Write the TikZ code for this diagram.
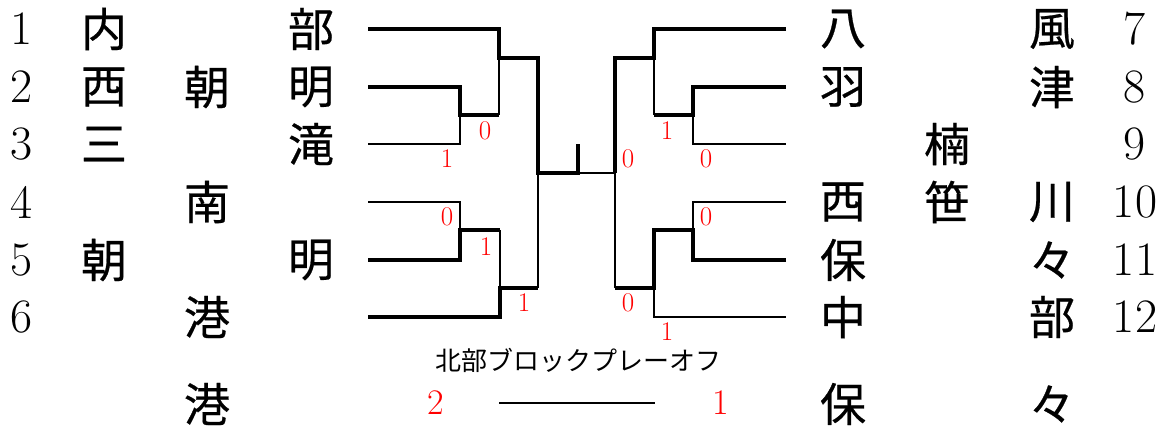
\documentclass[tikz,border=0pt]{standalone}
\usepackage{fontspec}
\newfontfamily\jp{Noto Sans CJK JP}
\newfontfamily\jpb[FakeBold=0.5]{Noto Sans CJK JP}
\begin{document}
\begin{tikzpicture}[x=1pt,y=-1pt,
  kj/.style={font=\jpb\fontsize{46}{46}\selectfont, inner sep=0pt},
  num/.style={font=\fontsize{48}{48}\selectfont\addfontfeatures{LetterSpace=12}, inner sep=0pt},
  sc/.style={font=\fontsize{27}{27}\selectfont, text=red, inner sep=0pt},
  bigsc/.style={font=\fontsize{36}{36}\selectfont, text=red, inner sep=0pt},
  ttl/.style={font=\jp\fontsize{26}{26}\selectfont, inner sep=0pt},
  win/.style={line width=4pt, line join=miter},
  lose/.style={line width=1.8pt, line join=miter}]
\useasboundingbox (0,0) rectangle (1172,432);
% row numbers
\foreach \n/\y in {1/29,2/87,3/144,4/202,5/260,6/317}
  \node[num] (nl\n) at (22,\y) {\n};
\foreach \n/\y in {7/29,8/87,9/144,10/202,11/260,12/317}
  \node[num] (nr\n) at (1135,\y) {\n};
% left columns
\node[kj] (a1) at (104,29) {内};
\node[kj] (a2) at (104,87) {西};
\node[kj] (a3) at (104,144) {三};
\node[kj] (a5) at (104,260) {朝};
\node[kj] (b2) at (207,87) {朝};
\node[kj] (b4) at (207,202) {南};
\node[kj] (b6) at (207,317) {港};
\node[kj] (b7) at (207,404) {港};
\node[kj] (c1) at (311,29) {部};
\node[kj] (c2) at (311,87) {明};
\node[kj] (c3) at (311,144) {滝};
\node[kj] (c5) at (311,260) {明};
% right columns
\node[kj] (d1) at (843,29) {八};
\node[kj] (d2) at (843,87) {羽};
\node[kj] (d4) at (843,202) {西};
\node[kj] (d5) at (843,260) {保};
\node[kj] (d6) at (843,317) {中};
\node[kj] (d7) at (843,404) {保};
\node[kj] (e3) at (947,144) {楠};
\node[kj] (e4) at (947,202) {笹};
\node[kj] (f1) at (1052,29) {風};
\node[kj] (f2) at (1052,87) {津};
\node[kj] (f4) at (1052,202) {川};
\node[kj] (f5) at (1052,260) {々};
\node[kj] (f6) at (1052,317) {部};
\node[kj] (f7) at (1052,404) {々};
% left bracket
\draw[win] (368,29) -- (499,29) -- (499,58) -- (538,58) -- (538,173) -- (578,173) -- (578,144);
\draw[lose] (499,58) -- (499,115);
\draw[win] (368,87) -- (460,87) -- (460,115) -- (499,115);
\draw[lose] (368,144) -- (460,144) -- (460,115);
\draw[lose] (368,202) -- (460,202) -- (460,230);
\draw[win] (368,260) -- (460,260) -- (460,230) -- (500,230);
\draw[lose] (500,230) -- (500,288);
\draw[win] (368,317) -- (500,317) -- (500,288) -- (538,288);
\draw[lose] (538,288) -- (538,173);
\draw[lose] (578,173) -- (615,173);
% right bracket
\draw[win] (786,29) -- (654,29) -- (654,58) -- (615,58) -- (615,173);
\draw[lose] (654,58) -- (654,115);
\draw[win] (654,115) -- (693,115) -- (693,87) -- (786,87);
\draw[lose] (693,115) -- (693,144) -- (786,144);
\draw[lose] (786,202) -- (693,202) -- (693,230);
\draw[win] (786,260) -- (693,260) -- (693,230) -- (654,230) -- (654,288) -- (615,288);
\draw[lose] (615,288) -- (615,173);
\draw[lose] (654,288) -- (654,317) -- (786,317);
% scores
\node[sc] (s1) at (485,131) {0};
\node[sc] (s2) at (447,159) {1};
\node[sc] (s3) at (447,217) {0};
\node[sc] (s4) at (486,247) {1};
\node[sc] (s5) at (524,303) {1};
\node[sc] (s6) at (667,131) {1};
\node[sc] (s7) at (628,159) {0};
\node[sc] (s8) at (706,159) {0};
\node[sc] (s9) at (706,217) {0};
\node[sc] (s10) at (628,303) {0};
\node[sc] (s11) at (667,332) {1};
% playoff
\node[ttl] (title) at (578,360) {北部ブロックプレーオフ};
\node[bigsc] (p2) at (436,403) {2};
\node[bigsc] (p1) at (721,403) {1};
\coordinate (pl) at (499,403);
\coordinate (pr) at (655,403);
\draw[line width=2.2pt] (pl) -- (pr);
\end{tikzpicture}
\end{document}
